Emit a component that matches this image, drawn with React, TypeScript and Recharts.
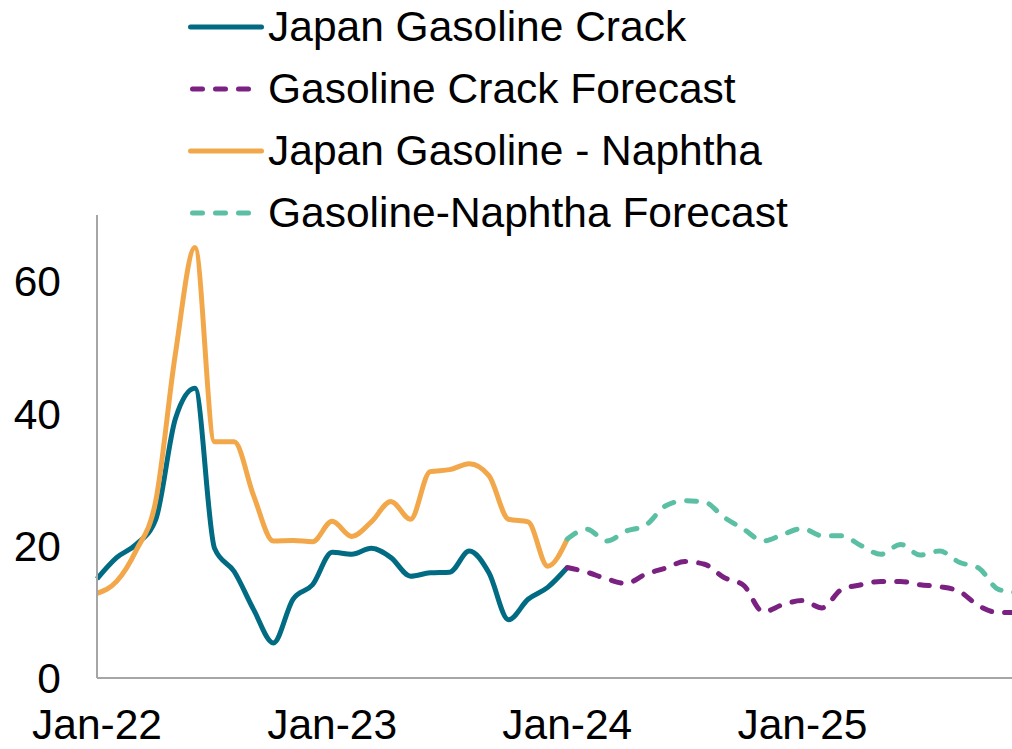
import { Line, LineChart, XAxis, YAxis } from "recharts"

const monthNames = ["Jan", "Feb", "Mar", "Apr", "May", "Jun", "Jul", "Aug", "Sep", "Oct", "Nov", "Dec"]
const years = ["22", "23", "24", "25"]
const months = years.flatMap((y) => monthNames.map((m) => `${m}-${y}`))

const xTicks = ["Jan-22", "Jan-23", "Jan-24", "Jan-25"]
const yTicks = [0, 20, 40, 60]

// Jan-22 .. Jan-24
const gasolineCrack = [
    15, 18.2, 20.2, 24.0, 39.2, 43.8, 19.6, 16.1, 10.3, 5.3, 11.9, 14.1, 19.0, 18.7, 19.6, 18.2, 15.4, 15.9, 16.0,
    19.2, 15.9, 8.8, 11.9, 13.7, 16.7,
]
const gasolineNaphtha = [
    12.8, 14.6, 19.3, 26.8, 49.0, 65.1, 35.7, 35.7, 27.5, 20.7, 20.8, 20.6, 23.7, 21.4, 23.6, 26.7, 24.0, 31.2, 31.5,
    32.4, 30.6, 24.0, 23.6, 16.9, 21.0,
]
// Jan-24 .. Dec-25
const crackForecast = [
    16.7, 16.0, 15.0, 14.3, 15.7, 16.6, 17.6, 17.2, 15.2, 14.0, 10.0, 11.1, 11.7, 10.6, 13.4, 14.1, 14.6, 14.6, 14.1,
    13.8, 13.1, 10.9, 9.9, 9.9,
]
const naphthaForecast = [
    21.0, 22.5, 20.7, 22.2, 23.1, 26.0, 26.8, 26.6, 24.3, 22.5, 20.7, 21.7, 22.6, 21.5, 21.5, 20.0, 18.7, 20.2, 18.6,
    19.2, 17.5, 16.6, 13.4, 12.9,
]

const forecastStart = 24

const data = months.map((month, i) => ({
    month,
    crack: i < gasolineCrack.length ? gasolineCrack[i] : null,
    naphtha: i < gasolineNaphtha.length ? gasolineNaphtha[i] : null,
    crackFc: i >= forecastStart ? crackForecast[i - forecastStart] : null,
    naphthaFc: i >= forecastStart ? naphthaForecast[i - forecastStart] : null,
}))

const colors = {
    crack: "#006B82",
    naphtha: "#F2A84A",
    crackFc: "#7A2182",
    naphthaFc: "#5BBFA3",
}

const legendItems = [
    { label: "Japan Gasoline Crack", color: colors.crack, dashed: false },
    { label: "Gasoline Crack Forecast", color: colors.crackFc, dashed: true },
    { label: "Japan Gasoline - Naphtha", color: colors.naphtha, dashed: false },
    { label: "Gasoline-Naphtha Forecast", color: colors.naphthaFc, dashed: true },
]

const font = "'Liberation Sans', Arial, sans-serif"
const dash = "10 13"

// the last month (Dec-25) sits just past the right edge, so the chart is a bit wider than the frame
export default function App() {
    return (
        <div style={{ position: "absolute", left: 0, top: 0, width: 1012, height: 749, overflow: "hidden", fontFamily: font }}>
            <LineChart width={1018} height={749} data={data} margin={{ top: 215, right: 0, bottom: 0, left: 0 }}>
                <XAxis
                    dataKey="month"
                    ticks={xTicks}
                    interval={0}
                    height={71}
                    tickLine={false}
                    tickSize={0}
                    tickMargin={31}
                    axisLine={{ stroke: "#A6A6A6", strokeWidth: 2 }}
                    tick={{ fontSize: 42.5, fill: "#000", fontFamily: font }}
                />
                <YAxis
                    width={97}
                    domain={[0, 70]}
                    ticks={yTicks}
                    tickLine={false}
                    tickSize={0}
                    tickMargin={36}
                    axisLine={{ stroke: "#A6A6A6", strokeWidth: 2 }}
                    tick={{ fontSize: 42.5, fill: "#000", fontFamily: font }}
                />
                <Line type="monotone" dataKey="crack" stroke={colors.crack} strokeWidth={5} dot={false} isAnimationActive={false} />
                <Line type="monotone" dataKey="naphtha" stroke={colors.naphtha} strokeWidth={5} dot={false} isAnimationActive={false} />
                <Line
                    type="monotone"
                    dataKey="crackFc"
                    stroke={colors.crackFc}
                    strokeWidth={5}
                    strokeDasharray={dash}
                    strokeLinecap="round"
                    dot={false}
                    isAnimationActive={false}
                />
                <Line
                    type="monotone"
                    dataKey="naphthaFc"
                    stroke={colors.naphthaFc}
                    strokeWidth={5}
                    strokeDasharray={dash}
                    strokeLinecap="round"
                    dot={false}
                    isAnimationActive={false}
                />
            </LineChart>
            <div style={{ position: "absolute", left: 188, top: -4 }}>
                {legendItems.map((item) => (
                    <div key={item.label} style={{ display: "flex", alignItems: "center", height: 62, whiteSpace: "nowrap" }}>
                        <svg width={76} height={10} style={{ marginRight: 4 }}>
                            <line
                                x1={item.dashed ? 4.5 : 2.5}
                                x2={73.5}
                                y1={5}
                                y2={5}
                                stroke={item.color}
                                strokeWidth={5}
                                strokeLinecap="round"
                                strokeDasharray={item.dashed ? dash : undefined}
                            />
                        </svg>
                        <span style={{ fontSize: 42.5, lineHeight: "62px", color: "#000" }}>{item.label}</span>
                    </div>
                ))}
            </div>
        </div>
    )
}
